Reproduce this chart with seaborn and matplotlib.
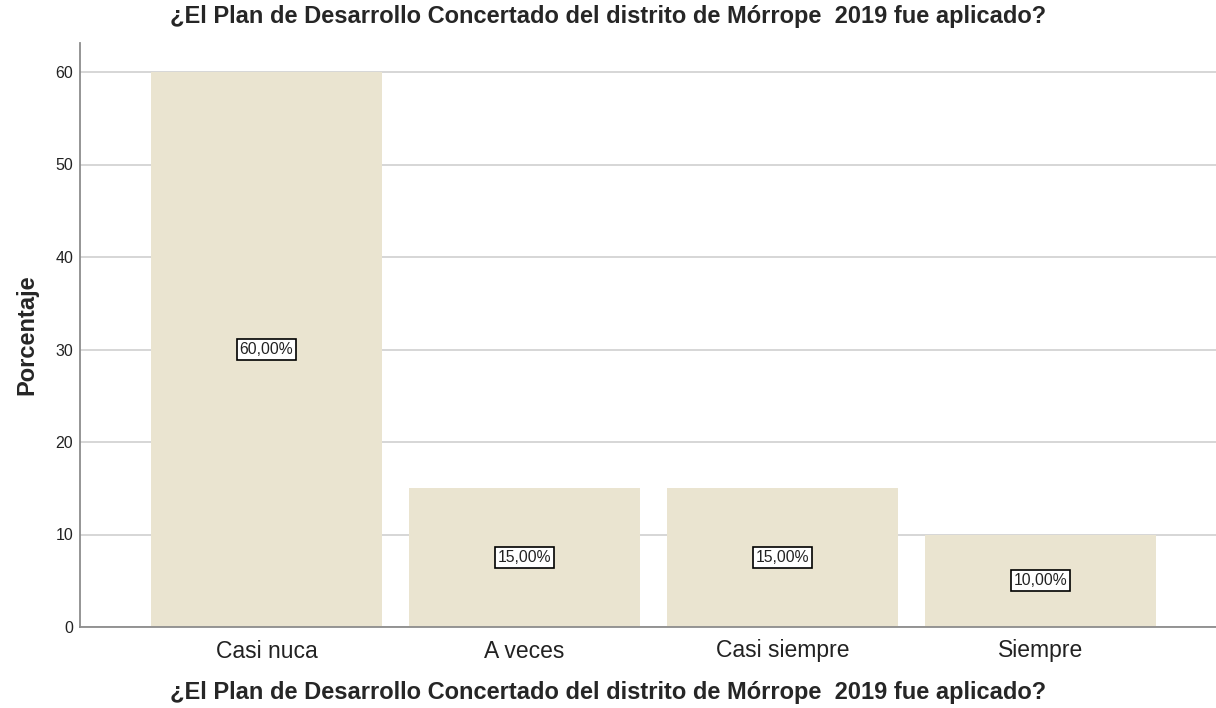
import matplotlib
matplotlib.use("Agg")
import matplotlib.pyplot as plt
import seaborn as sns
import pandas as pd

categories = ["Casi nuca", "A veces", "Casi siempre", "Siempre"]
values = [60.0, 15.0, 15.0, 10.0]
labels = ["60,00%", "15,00%", "15,00%", "10,00%"]
yticks = [0, 10, 20, 30, 40, 50, 60]
title = "¿El Plan de Desarrollo Concertado del distrito de Mórrope  2019 fue aplicado?"

sns.set_style("white")
plt.rcParams['font.family'] = ['Liberation Sans', 'DejaVu Sans']

df = pd.DataFrame({"cat": categories, "val": values})

fig = plt.figure(figsize=(12.16, 7.08), dpi=100)
ax = fig.add_axes([80/1216, 1-627/708, 1-80/1216, (627-43)/708])

sns.barplot(data=df, x="cat", y="val", color="#EAE4D0", width=231/258,
            saturation=1, linewidth=0, edgecolor="none", ax=ax, zorder=2)

ax.set_xlim(-186.5/258, 3 + (1216-1040.5)/258)
ax.set_ylim(0, (627-43)/9.25)
ax.set_yticks(yticks)
ax.yaxis.grid(True, color="#D3D3D3", linewidth=1.3, zorder=0)
ax.set_axisbelow(True)
for s in ["top", "right"]:
    ax.spines[s].set_visible(False)
for s in ["left", "bottom"]:
    ax.spines[s].set_color("#8C8C8C")
    ax.spines[s].set_linewidth(1.3)
ax.tick_params(axis="y", length=0, pad=5, labelsize=11.5, colors="#222222")
ax.tick_params(axis="x", length=0, pad=9, labelsize=16.5, colors="#222222")

for i, (v, lab) in enumerate(zip(values, labels)):
    ax.text(i, v/2, lab, ha="center", va="center", fontsize=11.3, color="#222222",
            bbox=dict(boxstyle="square,pad=0.2", fc="white", ec="black", lw=1.2), zorder=5)

ax.set_ylabel("Porcentaje", fontsize=17, fontweight="bold", labelpad=12)
ax.set_xlabel("")
fig.text(0.5, 1-17/708, title, ha="center", va="center",
         fontsize=17, fontweight="bold")
fig.text(0.5, 1-692/708, title, ha="center", va="center",
         fontsize=17, fontweight="bold")

fig.savefig("out.png", dpi=100)
